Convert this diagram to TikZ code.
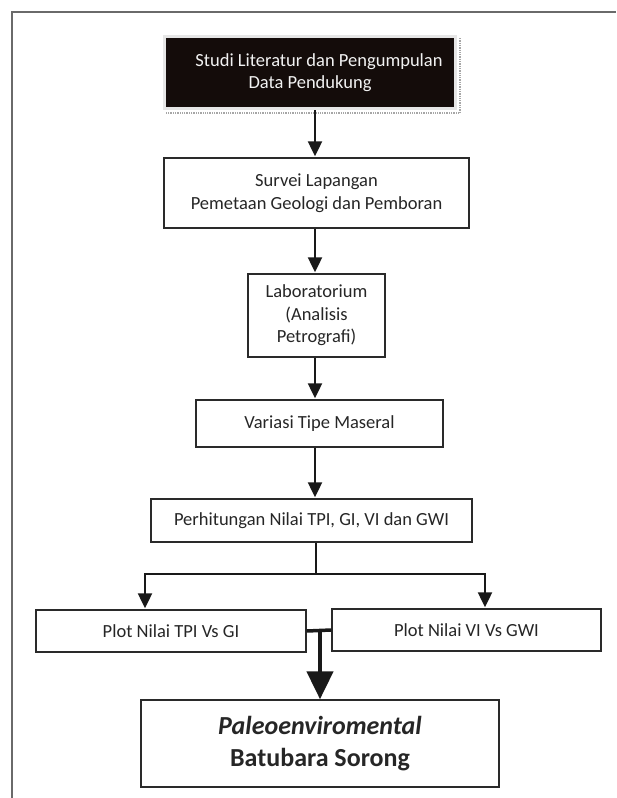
\documentclass[tikz,border=0pt]{standalone}
\usepackage{fontspec}
\setmainfont{Carlito}
\usetikzlibrary{arrows.meta,calc}
\definecolor{boxline}{HTML}{2A2A2A}
\definecolor{darkfill}{HTML}{140C0A}
\definecolor{framegray}{HTML}{6A6A6A}
\definecolor{litborder}{HTML}{E6E6E6}
\tikzset{
  flowbox/.style={draw=boxline, line width=1.4pt, fill=white, inner sep=0pt, align=center,
    font=\fontsize{18.5}{22.6}\selectfont, text=black!85},
  darkbox/.style={draw=litborder, line width=3pt, fill=darkfill, inner sep=0pt, align=center,
    font=\fontsize{18.5}{22.6}\selectfont, text=white!95!black},
  bigbox/.style={flowbox, font=\fontsize{26}{32}\selectfont\bfseries},
  conn/.style={draw=black!90, line width=2.2pt},
  arr/.style={conn, -{Triangle[width=14pt,length=15pt]}, shorten >=1pt},
  bigarr/.style={draw=black!90, line width=4.5pt, -{Triangle[width=26pt,length=28pt]}},
}
\begin{document}
\begin{tikzpicture}[x=1pt,y=-1pt]
\useasboundingbox (0,0) rectangle (616,798);
% outer frame (top and left edges)
\draw[framegray, line width=2pt] (12,798) -- (12,11.5) -- (616,11.5);

% boxes
\node[darkbox, minimum width=291pt, minimum height=72pt] (lit) at (310,72.5)
  {\hspace*{18pt}Studi Literatur dan Pengumpulan\\Data Pendukung};
\draw[gray!70, line width=1.3pt, densely dotted]
  ($(lit.north east)+(3,3)$) -- ($(lit.south east)+(3,3)$) -- ($(lit.south west)+(3,3)$);

\node[flowbox, minimum width=305pt, minimum height=70pt] (survei) at (316.5,193)
  {Survei Lapangan\\Pemetaan Geologi dan Pemboran};
\node[flowbox, minimum width=137pt, minimum height=83pt] (lab) at (316.5,315.5)
  {Laboratorium\\(Analisis\\Petrografi)};
\node[flowbox, minimum width=247pt, minimum height=47pt] (maseral) at (319.5,423.5)
  {Variasi Tipe Maseral};
\node[flowbox, minimum width=321pt, minimum height=43pt] (perh) at (311.5,520.5)
  {Perhitungan Nilai TPI, GI, VI dan GWI};
\node[flowbox, minimum width=270pt, minimum height=42pt] (plotA) at (171,631)
  {Plot Nilai TPI Vs GI};
\node[flowbox, minimum width=269pt, minimum height=42pt] (plotB) at (466.5,630)
  {Plot Nilai VI Vs GWI};
\node[bigbox, minimum width=358pt, minimum height=87pt] (paleo) at (320,743.5)
  {\textit{Paleoenviromental}\\Batubara Sorong};

% connectors
\coordinate (ax) at (315,0);
\draw[arr] (lit.south -| ax) -- (survei.north -| ax);
\draw[arr] (survei.south -| ax) -- (lab.north -| ax);
\draw[arr] (lab.south -| ax) -- (maseral.north -| ax);
\draw[arr] (maseral.south -| ax) -- (perh.north -| ax);

\coordinate (bm) at (316,574);
\coordinate (bl) at (145,574);
\coordinate (br) at (485,574);
\draw[conn] (perh.south -| bm) -- (bm);
\draw[arr] (bm) -| (plotA.north -| bl);
\draw[arr] (bm) -| (plotB.north -| br);

\draw[draw=black!90, line width=3.5pt] (plotA.east) -- (plotB.west);
\coordinate (jm) at (320,631);
\draw[bigarr] (jm) -- (paleo.north -| jm);
\end{tikzpicture}
\end{document}
